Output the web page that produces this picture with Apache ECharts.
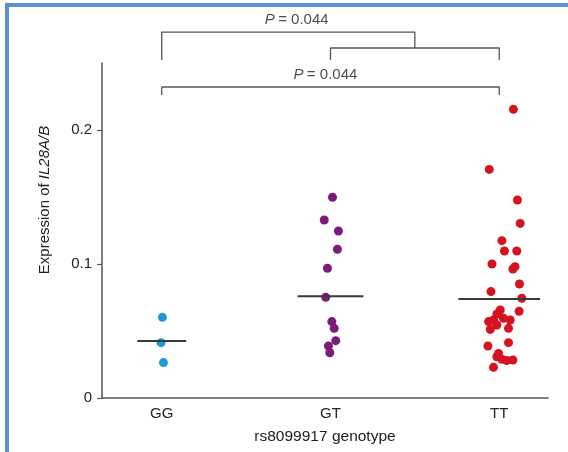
<!DOCTYPE html>
<html>
<head>
<meta charset="utf-8">
<script src="https://cdn.jsdelivr.net/npm/echarts@6/dist/echarts.min.js"></script>
<style>
  html, body { margin: 0; padding: 0; background: #fff; }
  #chart { width: 568px; height: 452px; }
</style>
</head>
<body>
<div id="chart"></div>
<script>
// Genotype groups and their positions on the x axis
const genotypes = ['GG', 'GT', 'TT'];
const groupPos = [1, 2, 3];
const groupColors = ['#1d9ad4', '#7b1c7c', '#d5121f'];

// Expression values per genotype
const ggValues = [0.0602, 0.0413, 0.0264];
const ggJitter = [0.004, -0.004, 0.010];

const gtValues = [0.1498, 0.1328, 0.1246, 0.1110, 0.0968, 0.0751, 0.0570, 0.0520, 0.0428, 0.0388, 0.0338];
const gtJitter = [0.012, -0.037, 0.047, 0.041, -0.018, -0.028, 0.008, 0.022, 0.031, -0.012, -0.004];

const ttValues = [0.2154, 0.1706, 0.1478, 0.1303, 0.1174, 0.1097, 0.1097, 0.1000, 0.0963, 0.0980,
                  0.0851, 0.0794, 0.0744, 0.0657, 0.0647, 0.0627, 0.0595, 0.0570, 0.0582, 0.0582,
                  0.0545, 0.0520, 0.0512, 0.0413, 0.0388, 0.0333, 0.0308, 0.0289, 0.0284, 0.0280, 0.0229];
const ttJitter = [0.084, -0.059, 0.108, 0.124, 0.016, 0.031, 0.104, -0.043, 0.081, 0.094,
                  0.120, -0.049, 0.134, 0.006, 0.118, -0.014, 0.025, -0.063, 0.065, -0.034,
                  -0.014, 0.055, -0.053, 0.055, -0.067, -0.004, -0.014, 0.016, 0.081, 0.045, -0.034];

// Median per group and the half-width of its bar
const medians = [0.0425, 0.0760, 0.0739];
const medianHalfWidth = [0.145, 0.195, 0.242];

// Y axis ticks
const yTicks = [0, 0.1, 0.2];

// Significance brackets: [from group, to group, bar height, leg bottom]
const innerBracket = [1, 2, 0.2612, 0.2522];          // GT vs TT
const outerTopBracket = [0, 1.5, 0.2731, 0.2522];     // GG vs (GT+TT)
const wideBracket = [0, 2, 0.2321, 0.2261];           // GG vs TT
// P value labels: [x axis value, height]
const pLabelPos = [[1.80, 0.282], [1.97, 0.241]];

const chart = echarts.init(document.getElementById('chart'), null, { renderer: 'canvas' });

const FONT = 'Liberation Sans';

function groupPoints(idx, values, jitter) {
  return values.map((v, i) => [groupPos[idx] + jitter[i], v]);
}
function posOf(g) {
  // fractional group index -> x axis value
  const lo = Math.floor(g), hi = Math.ceil(g);
  return groupPos[lo] + (groupPos[hi] - groupPos[lo]) * (g - lo);
}

const pointSeries = [
  [ggValues, ggJitter], [gtValues, gtJitter], [ttValues, ttJitter]
].map(([vals, jit], i) => ({
  type: 'scatter',
  data: groupPoints(i, vals, jit),
  symbolSize: 9,
  itemStyle: { color: groupColors[i], opacity: 1 },
  z: 3,
  silent: true
}));

const medianSeries = medians.map((m, i) => ({
  type: 'line',
  data: [[groupPos[i] - medianHalfWidth[i], m], [groupPos[i] + medianHalfWidth[i], m]],
  symbol: 'none',
  lineStyle: { color: '#3a3a3a', width: 2 },
  z: 4,
  silent: true
}));

const bracketStyle = { color: '#555', width: 1.3 };
function bracketSeries(b, legs) {
  const x1 = posOf(b[0]), x2 = posOf(b[1]);
  const data = legs === 'left'
    ? [[x1, b[3]], [x1, b[2]], [x2, b[2]], [x2, innerBracket[2]]]
    : [[x1, b[3]], [x1, b[2]], [x2, b[2]], [x2, b[3]]];
  return {
    type: 'line', data, symbol: 'none', clip: false,
    lineStyle: bracketStyle, silent: true, animation: false
  };
}

const labelSeries = {
  type: 'scatter',
  data: pLabelPos,
  symbolSize: 0,
  clip: false,
  silent: true,
  label: {
    show: true,
    position: 'inside',
    formatter: () => '{p|P} {t|= 0.044}',
    rich: {
      p: { fontStyle: 'italic', fontSize: 15, color: '#222', fontFamily: FONT },
      t: { fontSize: 15, color: '#222', fontFamily: FONT }
    }
  }
};

chart.setOption({
  animation: false,
  grid: { left: 102, right: 20, top: 63, bottom: 54, containLabel: false },
  xAxis: {
    type: 'value',
    min: 0.646,
    max: 3.289,
    name: 'rs8099917 genotype',
    nameLocation: 'middle',
    nameGap: 31,
    nameTextStyle: { fontFamily: FONT, fontSize: 15.5, color: '#222' },
    axisLine: { show: true, lineStyle: { color: '#555', width: 1.5 } },
    axisTick: { show: false },
    splitLine: { show: false },
    axisLabel: {
      customValues: groupPos,
      formatter: v => genotypes[groupPos.indexOf(Math.round(v))] || '',
      margin: 8,
      fontFamily: FONT, fontSize: 15, color: '#222'
    }
  },
  yAxis: {
    type: 'value',
    min: 0,
    max: 0.25,
    axisLine: { show: true, lineStyle: { color: '#555', width: 1.5 } },
    axisTick: { show: true, length: 5, customValues: yTicks, lineStyle: { color: '#555', width: 1.2 } },
    splitLine: { show: false },
    axisLabel: {
      customValues: yTicks,
      formatter: v => (v === 0 ? '0' : String(Math.round(v * 10) / 10)),
      margin: 10,
      fontFamily: FONT, fontSize: 15, color: '#222'
    }
  },
  graphic: [
    // frame edges
    { type: 'rect', shape: { x: 5, y: 3, width: 563, height: 4 }, style: { fill: '#5a8fd8' }, silent: true },
    { type: 'rect', shape: { x: 5, y: 3, width: 4, height: 449 }, style: { fill: '#5a8fd8' }, silent: true },
    // y axis title
    {
      type: 'text',
      x: 45, y: 200, rotation: Math.PI / 2,
      style: {
        text: '{n|Expression of }{i|IL28A/B}',
        align: 'center', verticalAlign: 'middle',
        rich: {
          n: { fontFamily: FONT, fontSize: 15, fill: '#222' },
          i: { fontFamily: FONT, fontSize: 15, fontStyle: 'italic', fill: '#222' }
        }
      },
      silent: true
    }
  ],
  series: [
    ...pointSeries,
    ...medianSeries,
    bracketSeries(innerBracket, 'both'),
    bracketSeries(outerTopBracket, 'left'),
    bracketSeries(wideBracket, 'both'),
    labelSeries
  ]
});
</script>
</body>
</html>
